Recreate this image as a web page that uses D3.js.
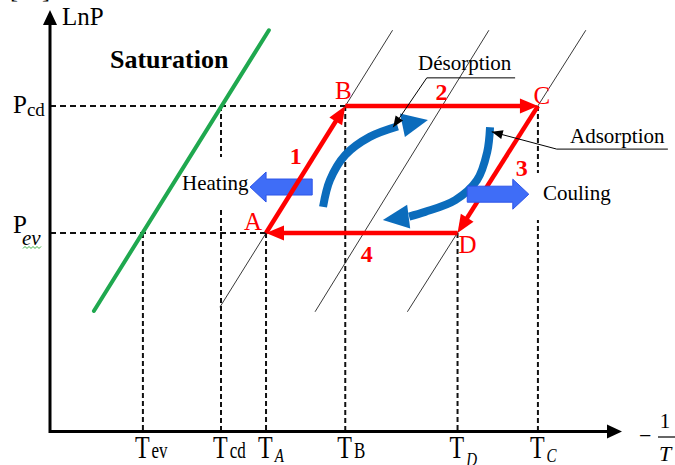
<!DOCTYPE html>
<html>
<head>
<meta charset="utf-8">
<script src="https://cdn.jsdelivr.net/npm/d3@7"></script>
<style>
  html, body { margin: 0; padding: 0; background: #fff; }
  svg { display: block; }
</style>
</head>
<body>
<svg id="chart" width="675" height="465"></svg>
<script>
// ---- Clapeyron diagram of an adsorption cycle (LnP vs −1/T, arbitrary units) ----

// Temperatures marked on the −1/T axis
const tempNames  = ["ev", "cd", "A", "B", "D", "C"];
const tempValues = [1.63, 3.00, 3.79, 5.18, 7.15, 8.56];
// Pressure level reached by each temperature's guide line
const tempLevels = ["ev", "cd", "ev", "cd", "ev", "cd"];

// Pressure levels on the LnP axis
const pressureNames  = ["cd", "ev"];
const pressureValues = [7.72, 4.71];
// Cycle corner where each pressure guide line stops
const pressureReach  = ["B", "A"];

// Cycle corners A → B → C → D
const cycleNames = ["A", "B", "C", "D"];
const cycleT     = [3.79, 5.18, 8.56, 7.15];
const cycleP     = [4.71, 7.72, 7.72, 4.71];
const stageNames = ["1", "2", "3", "4"];

// Saturation line and isosteres, endpoints as [−1/T, LnP]
const saturation = [[0.77, 2.86], [3.84, 9.52]];
const isosteres = [
  [[2.98, 2.95], [6.01, 9.52]],
  [[4.65, 2.84], [7.70, 9.52]],
  [[6.27, 2.84], [9.40, 9.52]]
];

// ---- setup ----
const svg = d3.select("#chart");
const SERIF = '"Liberation Serif", "Times New Roman", serif';
const RED = "#ff0000", BLUE = "#0b6cbc", GREEN = "#1fa84f";

const x = d3.scaleLinear().domain([0, 10]).range([50, 620]);
const y = d3.scaleLinear().domain([0, 10]).range([431.5, 10]);

const pLevel = Object.fromEntries(pressureNames.map((n, i) => [n, pressureValues[i]]));
const corners = cycleNames.map((n, i) => ({ name: n, t: cycleT[i], p: cycleP[i] }));
const cornerT = Object.fromEntries(corners.map(c => [c.name, c.t]));

// filled triangular head with its tip at (tx,ty), pointing away from (fx,fy)
function headPoints(tx, ty, fx, fy, len, half) {
  const dx = tx - fx, dy = ty - fy, L = Math.hypot(dx, dy);
  const ux = dx / L, uy = dy / L, px = -uy, py = ux;
  const bx = tx - ux * len, by = ty - uy * len;
  return [[tx, ty], [bx + px * half, by + py * half], [bx - px * half, by - py * half]];
}
const poly = pts => pts.map(p => p.join(",")).join(" ");

// ---- isosteres ----
svg.append("g")
  .selectAll("line").data(isosteres).join("line")
  .attr("x1", d => x(d[0][0])).attr("y1", d => y(d[0][1]))
  .attr("x2", d => x(d[1][0])).attr("y2", d => y(d[1][1]))
  .attr("stroke", "#222").attr("stroke-width", 0.9);

// ---- dashed guide lines ----
const guides = svg.append("g").attr("stroke", "#111").attr("stroke-width", 2).attr("fill", "none");
guides.selectAll("line.v").data(tempNames.map((n, i) => ({ t: tempValues[i], p: pLevel[tempLevels[i]] })))
  .join("line").attr("class", "v")
  .attr("x1", d => x(d.t)).attr("x2", d => x(d.t))
  .attr("y1", d => y(d.p)).attr("y2", y(0))
  .attr("stroke-dasharray", "5,3");
guides.selectAll("line.h").data(pressureNames.map((n, i) => ({ p: pressureValues[i], t: cornerT[pressureReach[i]] })))
  .join("line").attr("class", "h")
  .attr("x1", x(0)).attr("x2", d => x(d.t))
  .attr("y1", d => y(d.p)).attr("y2", d => y(d.p))
  .attr("stroke-dasharray", "6,4");

// white label boxes that sit over the guide lines
svg.append("rect").attr("x", 200).attr("y", 157).attr("width", 50).attr("height", 53).attr("fill", "#fff");
svg.append("rect").attr("x", 532).attr("y", 173).attr("width", 83).attr("height", 47).attr("fill", "#fff");

// ---- axes ----
const axes = svg.append("g");
axes.append("line").attr("x1", x(0)).attr("y1", y(0)).attr("x2", 608).attr("y2", y(0))
  .attr("stroke", "#000").attr("stroke-width", 3);
axes.append("polygon").attr("points", poly(headPoints(622, y(0), 600, y(0), 15, 7))).attr("fill", "#000");
axes.append("line").attr("x1", x(0)).attr("y1", y(0) + 1.5).attr("x2", x(0)).attr("y2", 24)
  .attr("stroke", "#000").attr("stroke-width", 3);
axes.append("polygon").attr("points", poly(headPoints(x(0), 10, x(0), 40, 15, 7))).attr("fill", "#000");

// fragment of the unit bracket above the LnP axis
svg.append("text").attr("x", 10).attr("y", -2).attr("font-family", SERIF).attr("font-size", 24)
  .text("[Pa]");

svg.append("text").attr("x", 62).attr("y", 25).attr("font-family", SERIF).attr("font-size", 25)
  .attr("fill", "#000").text("LnP");

// −1/T axis title
const xt = svg.append("g").attr("font-family", SERIF).attr("fill", "#000");
xt.append("text").attr("x", 639).attr("y", 443).attr("font-size", 22).text("−");
xt.append("text").attr("x", 665).attr("y", 428).attr("font-size", 21).attr("text-anchor", "middle").text("1");
xt.append("line").attr("x1", 658).attr("x2", 680).attr("y1", 437).attr("y2", 437).attr("stroke", "#000").attr("stroke-width", 1.2);
xt.append("text").attr("x", 659).attr("y", 461).attr("font-size", 22).attr("font-style", "italic").text("T");

// temperature tick labels
const subStyle = {
  ev: { italic: false, size: 17, dy: 0 },
  cd: { italic: false, size: 17, dy: 0 },
  A:  { italic: true,  size: 15, dy: 3 },
  B:  { italic: false, size: 17, dy: 0 },
  D:  { italic: true,  size: 15, dy: 6 },
  C:  { italic: true,  size: 15, dy: 3 }
};
const tl = svg.append("g").attr("font-family", SERIF).attr("fill", "#000");
tempNames.forEach((n, i) => {
  const s = subStyle[n];
  const g = tl.append("g").attr("transform", `translate(${x(tempValues[i]) - 8},458) scale(1,1.3)`);
  const t = g.append("text").attr("font-size", 24);
  t.append("tspan").text("T");
  t.append("tspan").attr("dx", 2).attr("dy", s.dy).attr("font-size", s.size)
    .attr("font-style", s.italic ? "italic" : "normal").text(n);
});

// pressure tick labels
const pl = svg.append("g").attr("font-family", SERIF).attr("fill", "#000");
pl.append("text").attr("x", 13).attr("y", y(pLevel.cd) + 7).attr("font-size", 25)
  .call(t => { t.append("tspan").text("P"); t.append("tspan").attr("font-size", 19).attr("dy", 3).text("cd"); });
pl.append("text").attr("x", 13).attr("y", y(pLevel.ev)).attr("font-size", 25)
  .call(t => { t.append("tspan").text("P"); t.append("tspan").attr("font-size", 21).attr("dx", -5).attr("dy", 12).attr("font-style", "italic").text("ev"); });
// proofing squiggle under the subscript
pl.append("path").attr("fill", "none").attr("stroke", "#3cb043").attr("stroke-width", 1)
  .attr("d", d3.range(0, 10).map(k => `${k ? "L" : "M"}${23 + k * 2},${y(pLevel.ev) + (k % 2 ? 13.5 : 15.5)}`).join(""));

// ---- saturation line ----
svg.append("line")
  .attr("x1", x(saturation[0][0])).attr("y1", y(saturation[0][1]))
  .attr("x2", x(saturation[1][0])).attr("y2", y(saturation[1][1]))
  .attr("stroke", GREEN).attr("stroke-width", 4).attr("stroke-linecap", "round");
svg.append("text").attr("x", 110).attr("y", 68).attr("font-family", SERIF).attr("font-size", 26)
  .attr("font-weight", "bold").attr("fill", "#000").text("Saturation");

// ---- block arrows (heat exchange) ----
function blockArrow(g, t0, t1, p) {
  const x0 = x(t0), x1 = x(t1), yc = y(p), dir = Math.sign(x1 - x0);
  const hb = x1 - dir * 16, bh = 8, hh = 15;
  g.append("polygon").attr("points", poly([
    [x0, yc - bh], [hb, yc - bh], [hb, yc - hh], [x1, yc], [hb, yc + hh], [hb, yc + bh], [x0, yc + bh]
  ])).attr("fill", "#3f6df7").attr("stroke", "#2e55e8").attr("stroke-width", 1);
}
const heatG = svg.append("g");
blockArrow(heatG, 4.60, 3.51, 5.80);
svg.append("text").attr("x", 182).attr("y", 190).attr("font-family", SERIF).attr("font-size", 21).text("Heating");

// ---- cycle A → B → C → D ----
const cyc = svg.append("g");
corners.forEach((c, i) => {
  const n = corners[(i + 1) % corners.length];
  const x0 = x(c.t), y0 = y(c.p), x1 = x(n.t), y1 = y(n.p);
  const L = Math.hypot(x1 - x0, y1 - y0), ux = (x1 - x0) / L, uy = (y1 - y0) / L;
  cyc.append("line").attr("x1", x0).attr("y1", y0).attr("x2", x1 - ux * 12).attr("y2", y1 - uy * 12)
    .attr("stroke", RED).attr("stroke-width", 4.5);
  cyc.append("polygon").attr("points", poly(headPoints(x1, y1, x0, y0, 18, 7.5))).attr("fill", RED);
});
const cornerOffset = { A: [-13, -3], B: [-2, -7], C: [4, -2], D: [10, 20] };
cyc.selectAll("text.corner").data(corners).join("text").attr("class", "corner")
  .attr("x", d => x(d.t) + cornerOffset[d.name][0]).attr("y", d => y(d.p) + cornerOffset[d.name][1])
  .attr("text-anchor", "middle").attr("font-family", SERIF).attr("font-size", 25).attr("fill", RED)
  .text(d => d.name);
const stageOffset = [[-10, -6], [0, -6], [24, 6], [5, 29]];
cyc.selectAll("text.stage").data(stageNames).join("text").attr("class", "stage")
  .attr("x", (d, i) => (x(corners[i].t) + x(corners[(i + 1) % 4].t)) / 2 + stageOffset[i][0])
  .attr("y", (d, i) => (y(corners[i].p) + y(corners[(i + 1) % 4].p)) / 2 + stageOffset[i][1])
  .attr("text-anchor", "middle").attr("font-family", SERIF).attr("font-size", 24)
  .attr("font-weight", "bold").attr("fill", RED).text(d => d);

// ---- desorption / adsorption flow arrows ----
const curve = d3.line().x(d => x(d[0])).y(d => y(d[1])).curve(d3.curveCatmullRom);
function flowArrow(shaft, tip) {
  const g = svg.append("g");
  g.append("path").attr("d", curve(shaft)).attr("fill", "none")
    .attr("stroke", BLUE).attr("stroke-width", 8);
  const last = shaft[shaft.length - 1];
  g.append("polygon").attr("points", poly(headPoints(x(tip[0]), y(tip[1]), x(last[0]), y(last[1]), 26, 12)))
    .attr("fill", BLUE);
}
flowArrow([[4.79, 5.33], [4.91, 5.96], [5.18, 6.56], [5.61, 6.99], [6.10, 7.24]], [6.63, 7.39]);
flowArrow([[7.72, 7.22], [7.67, 6.63], [7.49, 5.96], [7.11, 5.49], [6.58, 5.21], [6.30, 5.10]], [5.84, 5.02]);

const coolG = svg.append("g");
blockArrow(coolG, 7.32, 8.40, 5.63);
svg.append("text").attr("x", 543).attr("y", 200).attr("font-family", SERIF).attr("font-size", 21).text("Couling");

// ---- leader lines ----
function leader(pts) {
  const g = svg.append("g");
  g.append("path").attr("d", d3.line().x(d => x(d[0])).y(d => y(d[1]))(pts))
    .attr("fill", "none").attr("stroke", "#000").attr("stroke-width", 1);
  const a = pts[pts.length - 2], b = pts[pts.length - 1];
  g.append("polygon").attr("points", poly(headPoints(x(b[0]), y(b[1]), x(a[0]), y(a[1]), 11, 4.5)))
    .attr("fill", "#000");
}
leader([[8.16, 8.39], [6.61, 8.39], [6.02, 7.22]]);
leader([[10.84, 6.70], [8.89, 6.70], [7.75, 7.11]]);
svg.append("text").attr("x", 418).attr("y", 70).attr("font-family", SERIF).attr("font-size", 21).text("Désorption");
svg.append("text").attr("x", 570).attr("y", 143).attr("font-family", SERIF).attr("font-size", 21).text("Adsorption");
</script>
</body>
</html>
